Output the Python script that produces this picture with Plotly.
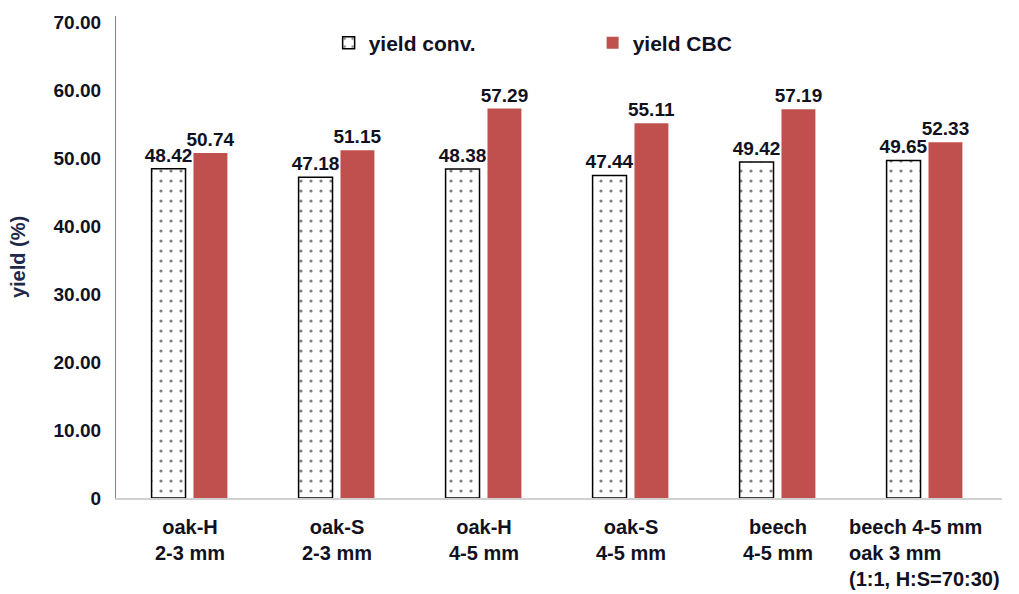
import plotly.graph_objects as go

# Sample groups and measured yields (%)
categories = ["oak-H 2-3", "oak-S 2-3", "oak-H 4-5", "oak-S 4-5", "beech 4-5", "mix"]
category_labels = [
    "oak-H<br>2-3 mm",
    "oak-S<br>2-3 mm",
    "oak-H<br>4-5 mm",
    "oak-S<br>4-5 mm",
    "beech<br>4-5 mm",
    "beech 4-5 mm<br>oak 3 mm<br>(1:1, H:S=70:30)",
]
yield_conv = [48.42, 47.18, 48.38, 47.44, 49.42, 49.65]
yield_cbc = [50.74, 51.15, 57.29, 55.11, 57.19, 52.33]

y_tickvals = [0, 10, 20, 30, 40, 50, 60, 70]
y_ticktext = ["0", "10.00", "20.00", "30.00", "40.00", "50.00", "60.00", "70.00"]

FONT = "Liberation Sans, Arial, sans-serif"
TXT = "#111122"

fig = go.Figure()
fig.add_trace(go.Bar(
    name="yield conv.",
    x=categories, y=yield_conv,
    text=[f"{v:.2f}" for v in yield_conv],
    textposition="outside",
    constraintext="none",
    textfont=dict(family=FONT, size=19, color=TXT),
    marker=dict(
        color="white",
        line=dict(color="black", width=1.5),
        pattern=dict(shape=".", fgcolor="black", bgcolor="white", size=10, solidity=0.08),
    ),
    cliponaxis=False,
))
fig.add_trace(go.Bar(
    name="yield CBC",
    x=categories, y=yield_cbc,
    text=[f"{v:.2f}" for v in yield_cbc],
    textposition="outside",
    constraintext="none",
    textfont=dict(family=FONT, size=19, color=TXT),
    marker=dict(color="#C0504D", line=dict(color="#C0504D", width=0)),
    cliponaxis=False,
))

# Category labels below the axis (last one is left-aligned, multi-line)
for i, (cat, lab) in enumerate(zip(categories, category_labels)):
    fig.add_annotation(
        x=cat, y=0, xref="x", yref="paper",
        yanchor="top", yshift=-16,
        text=f"<b>{lab}</b>",
        showarrow=False,
        align="left" if i == len(categories) - 1 else "center",
        font=dict(family=FONT, size=20, color=TXT),
    )

fig.update_layout(
    width=1019, height=594,
    margin=dict(l=116, r=17, t=16, b=96),
    paper_bgcolor="white", plot_bgcolor="white",
    barmode="group", bargap=0.43, bargroupgap=0.19,
    font=dict(family=FONT, size=19, color=TXT, weight="bold"),
    showlegend=True,
    legend=dict(
        orientation="h", x=0.24, y=0.944, xanchor="left", yanchor="middle",
        font=dict(family=FONT, size=21, color=TXT),
        entrywidth=219, entrywidthmode="pixels",
        bgcolor="rgba(0,0,0,0)",
    ),
    xaxis=dict(
        showticklabels=False, showline=True, linecolor="#d0d0d0", linewidth=1.5,
        ticks="", showgrid=False,
    ),
    yaxis=dict(
        range=[0, 70.9], tickvals=y_tickvals, ticktext=y_ticktext,
        showline=True, linecolor="#5b87c7", linewidth=1.2,
        showgrid=False, zeroline=False, ticks="",
        ticklabelstandoff=10,
        tickfont=dict(family=FONT, size=19, color=TXT),
        title=dict(text="yield (%)", font=dict(family=FONT, size=20, color="#1f2a4a"), standoff=22),
    ),
)

fig.write_html("out.html")
